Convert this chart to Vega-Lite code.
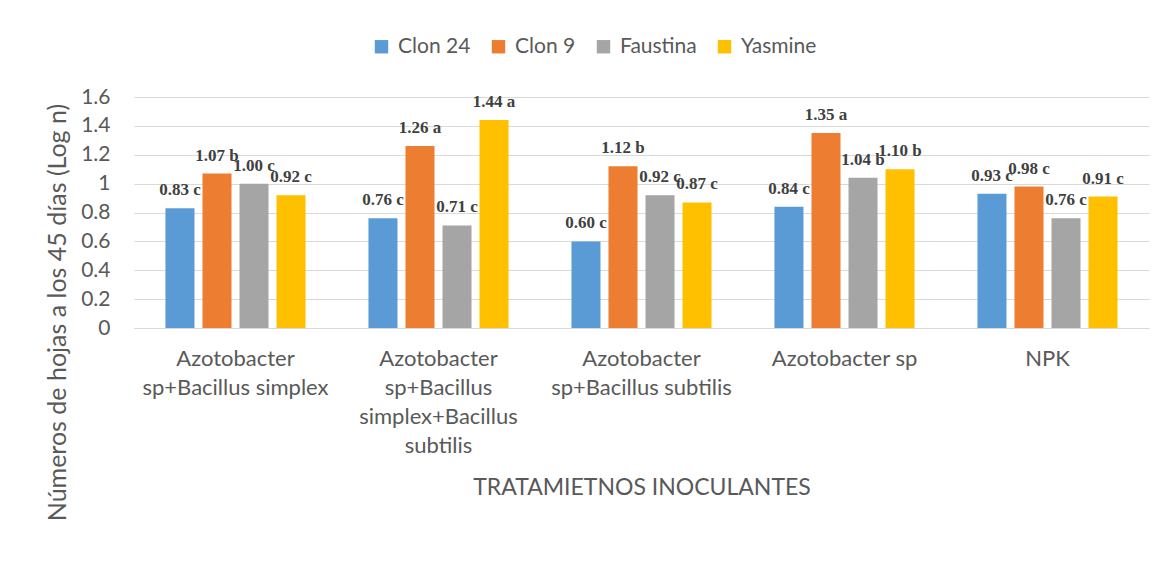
{
  "$schema": "https://vega.github.io/schema/vega-lite/v6.json",
  "autosize": {"type": "none"},
  "width": 1015,
  "height": 231,
  "padding": {"left": 134, "top": 97, "right": 27, "bottom": 235},
  "background": "white",
  "config": {
    "view": {"stroke": null},
    "font": "Lato",
    "axis": {"labelColor": "#595959", "titleColor": "#595959", "labelFont": "Lato", "titleFont": "Lato", "titleFontWeight": "normal"}
  },
  "data": {
    "values": [
      {"tratamiento": "Azotobacter sp+Bacillus simplex", "variedad": "Clon 24", "valor": 0.83, "letra": "c"},
      {"tratamiento": "Azotobacter sp+Bacillus simplex", "variedad": "Clon 9", "valor": 1.07, "letra": "b"},
      {"tratamiento": "Azotobacter sp+Bacillus simplex", "variedad": "Faustina", "valor": 1.00, "letra": "c"},
      {"tratamiento": "Azotobacter sp+Bacillus simplex", "variedad": "Yasmine", "valor": 0.92, "letra": "c"},
      {"tratamiento": "Azotobacter sp+Bacillus simplex+Bacillus subtilis", "variedad": "Clon 24", "valor": 0.76, "letra": "c"},
      {"tratamiento": "Azotobacter sp+Bacillus simplex+Bacillus subtilis", "variedad": "Clon 9", "valor": 1.26, "letra": "a"},
      {"tratamiento": "Azotobacter sp+Bacillus simplex+Bacillus subtilis", "variedad": "Faustina", "valor": 0.71, "letra": "c"},
      {"tratamiento": "Azotobacter sp+Bacillus simplex+Bacillus subtilis", "variedad": "Yasmine", "valor": 1.44, "letra": "a"},
      {"tratamiento": "Azotobacter sp+Bacillus subtilis", "variedad": "Clon 24", "valor": 0.60, "letra": "c"},
      {"tratamiento": "Azotobacter sp+Bacillus subtilis", "variedad": "Clon 9", "valor": 1.12, "letra": "b"},
      {"tratamiento": "Azotobacter sp+Bacillus subtilis", "variedad": "Faustina", "valor": 0.92, "letra": "c"},
      {"tratamiento": "Azotobacter sp+Bacillus subtilis", "variedad": "Yasmine", "valor": 0.87, "letra": "c"},
      {"tratamiento": "Azotobacter sp", "variedad": "Clon 24", "valor": 0.84, "letra": "c"},
      {"tratamiento": "Azotobacter sp", "variedad": "Clon 9", "valor": 1.35, "letra": "a"},
      {"tratamiento": "Azotobacter sp", "variedad": "Faustina", "valor": 1.04, "letra": "b"},
      {"tratamiento": "Azotobacter sp", "variedad": "Yasmine", "valor": 1.10, "letra": "b"},
      {"tratamiento": "NPK", "variedad": "Clon 24", "valor": 0.93, "letra": "c"},
      {"tratamiento": "NPK", "variedad": "Clon 9", "valor": 0.98, "letra": "c"},
      {"tratamiento": "NPK", "variedad": "Faustina", "valor": 0.76, "letra": "c"},
      {"tratamiento": "NPK", "variedad": "Yasmine", "valor": 0.91, "letra": "c"}
    ]
  },
  "encoding": {
    "x": {
      "field": "tratamiento",
      "type": "nominal",
      "sort": null,
      "scale": {"paddingInner": 0.31, "paddingOuter": 0.155},
      "axis": {
        "title": "TRATAMIETNOS INOCULANTES",
        "titleFontSize": 23,
        "titleY": 159,
        "titleBaseline": "middle",
        "labelAngle": 0,
        "labelFontSize": 22,
        "labelLineHeight": 29,
        "labelPadding": 20,
        "labelBaseline": "top",
        "labelLimit": 400,
        "ticks": false,
        "domain": true,
        "domainColor": "#d9d9d9",
        "grid": false,
        "labelExpr": "datum.value == 'Azotobacter sp+Bacillus simplex' ? ['Azotobacter', 'sp+Bacillus simplex'] : datum.value == 'Azotobacter sp+Bacillus simplex+Bacillus subtilis' ? ['Azotobacter', 'sp+Bacillus', 'simplex+Bacillus', 'subtilis'] : datum.value == 'Azotobacter sp+Bacillus subtilis' ? ['Azotobacter', 'sp+Bacillus subtilis'] : datum.value"
      }
    },
    "xOffset": {
      "field": "variedad",
      "type": "nominal",
      "sort": ["Clon 24", "Clon 9", "Faustina", "Yasmine"],
      "scale": {"paddingInner": 0.216, "paddingOuter": 0}
    },
    "y": {
      "field": "valor",
      "type": "quantitative",
      "scale": {"domain": [0, 1.6], "nice": false},
      "axis": {
        "title": "Números de hojas  a los 45 días  (Log n)",
        "titleFontSize": 25,
        "titleX": -77,
        "titleY": 215,
        "titleAngle": -90,
        "titleAlign": "center",
        "titleBaseline": "middle",
        "values": [0, 0.2, 0.4, 0.6, 0.8, 1, 1.2, 1.4, 1.6],
        "labelExpr": "datum.value == 0 || datum.value == 1 ? format(datum.value, 'd') : format(datum.value, '.1f')",
        "labelFontSize": 21,
        "labelPadding": 24,
        "ticks": false,
        "domain": false,
        "grid": true,
        "gridColor": "#d9d9d9",
        "gridWidth": 1
      }
    }
  },
  "layer": [
    {
      "mark": {"type": "bar"},
      "encoding": {
        "color": {
          "field": "variedad",
          "type": "nominal",
          "sort": ["Clon 24", "Clon 9", "Faustina", "Yasmine"],
          "scale": {"domain": ["Clon 24", "Clon 9", "Faustina", "Yasmine"], "range": ["#5b9bd5", "#ed7d31", "#a5a5a5", "#ffc000"]},
          "legend": {
            "title": null,
            "orient": "none",
            "direction": "horizontal",
            "legendX": 237,
            "legendY": -61,
            "symbolType": "square",
            "symbolSize": 180,
            "symbolStrokeWidth": 0,
            "labelFontSize": 21,
            "labelFont": "Lato",
            "labelColor": "#595959",
            "labelOffset": 6,
            "columnPadding": 17
          }
        }
      }
    },
    {
      "mark": {"type": "text", "baseline": "bottom", "dy": -9, "font": "Liberation Serif", "fontWeight": "bold", "fontSize": 17, "color": "#404040"},
      "encoding": {
        "text": {"field": "etiqueta"}
      },
      "transform": [{"calculate": "format(datum.valor, '.2f') + ' ' + datum.letra", "as": "etiqueta"}]
    }
  ]
}
